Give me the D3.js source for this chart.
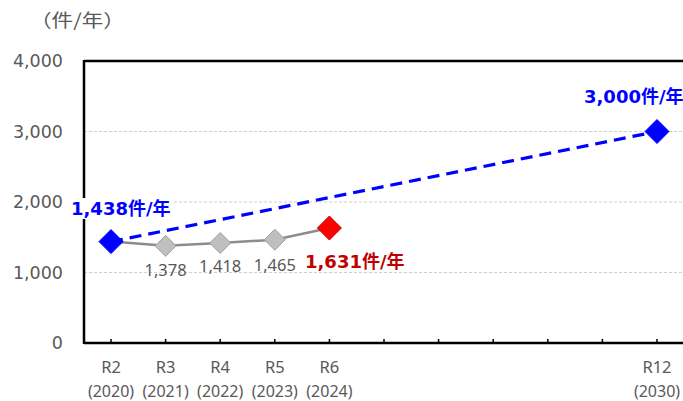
<!DOCTYPE html>
<html><head><meta charset="utf-8">
<script src="https://cdn.jsdelivr.net/npm/d3@7"></script>
<style>body{margin:0;background:#fff}svg{display:block}</style>
</head><body><svg id="c" width="683" height="401"></svg>
<script>
const categories = ["R2","R3","R4","R5","R6","R7","R8","R9","R10","R11","R12"];
const yearLabels = ["(2020)","(2021)","(2022)","(2023)","(2024)","","","","","","(2030)"];
const shownCats = ["R2","R3","R4","R5","R6","R12"];
const actualCats = ["R2","R3","R4","R5","R6"];
const actualValues = [1438,1378,1418,1465,1631];
const targetCats = ["R2","R12"];
const targetValues = [1438,3000];
const yTicks = [0,1000,2000,3000,4000];
const unitLabel = "（件/年）";

(function(){
const svg = d3.select("#c");
const font = "'DejaVu Sans','Noto Sans CJK JP',sans-serif";
const font2 = "'Noto Sans','Noto Sans CJK JP',sans-serif";
const pLeft = 84, pRight = 683, pTop = 61, pBottom = 343;
const step = 54.6;
const x = d3.scalePoint().domain(categories).range([111, 111 + step*10]);
const y = d3.scaleLinear().domain([0,4000]).range([pBottom, pTop]);
const fmt = d3.format(",");

// grid
svg.append("g").selectAll("line").data(yTicks.filter(d=>d>0 && d<4000)).join("line")
  .attr("x1", pLeft).attr("x2", pRight).attr("y1", d=>y(d)).attr("y2", d=>y(d))
  .attr("stroke", "#cfcfcf").attr("stroke-dasharray","3,2").attr("stroke-width",1);

// y labels
svg.append("g").selectAll("text").data(yTicks).join("text")
  .attr("x", 63).attr("y", d=>y(d)).attr("dy","0.36em").attr("text-anchor","end")
  .attr("font-family", font).attr("font-size", 17.5).attr("fill","#595959").text(d=>fmt(d));
svg.append("text").attr("transform", "translate(30,27) scale(1.2,1)")
  .attr("font-family", "'Noto Sans CJK JP',sans-serif").attr("font-size", 18)
  .attr("fill","#595959").text(unitLabel);

// frame: top, left, bottom
svg.append("line").attr("x1", pLeft).attr("x2", pRight).attr("y1", y(4000)).attr("y2", y(4000)).attr("stroke","#000").attr("stroke-width",2.5);
svg.append("line").attr("x1", pLeft).attr("x2", pLeft).attr("y1", y(4000)-1).attr("y2", y(0)+1).attr("stroke","#000").attr("stroke-width",2.5);
svg.append("line").attr("x1", pLeft).attr("x2", pRight).attr("y1", y(0)).attr("y2", y(0)).attr("stroke","#000").attr("stroke-width",2.5);
// x ticks
svg.append("g").selectAll("line").data(categories).join("line")
  .attr("x1", d=>x(d)).attr("x2", d=>x(d)).attr("y1", y(0)-4).attr("y2", y(0))
  .attr("stroke","#000").attr("stroke-width",1.5);
// x labels
svg.append("g").selectAll("text").data(shownCats).join("text")
  .attr("x", d=>x(d)).attr("y", 373).attr("text-anchor","middle")
  .attr("font-family", font2).attr("font-size", 16.5).attr("fill","#595959").text(d=>d);
svg.append("g").selectAll("text").data(categories.map((c,i)=>({c, t:yearLabels[i]})).filter(d=>d.t)).join("text")
  .attr("x", d=>x(d.c)).attr("y", 396.5).attr("text-anchor","middle")
  .attr("font-family", font2).attr("font-size", 16).attr("fill","#595959").text(d=>d.t);

// target dashed line
svg.append("path").datum(targetCats.map((c,i)=>[x(c), y(targetValues[i])]))
  .attr("d", d3.line()).attr("stroke","#0000ff").attr("stroke-width",3.2).attr("stroke-dasharray","12,7").attr("fill","none");
// actual line
svg.append("path").datum(actualCats.map((c,i)=>[x(c), y(actualValues[i])]))
  .attr("d", d3.line()).attr("stroke","#8c8c8c").attr("stroke-width",2.5).attr("fill","none");

function diamond(cx, cy, r, fill, stroke){
  svg.append("path").attr("d", `M${cx},${cy-r}L${cx+r},${cy}L${cx},${cy+r}L${cx-r},${cy}Z`)
    .attr("fill", fill).attr("stroke", stroke).attr("stroke-width",1);
}
actualCats.forEach((c,i)=>{
  if(i===0) diamond(x(c), y(actualValues[i]), 12, "#0000ff", "#0000ff");
  else if(i===actualCats.length-1) diamond(x(c), y(actualValues[i]), 12, "#ff0000", "#c00000");
  else diamond(x(c), y(actualValues[i]), 10.5, "#bfbfbf", "#a0a0a0");
});
diamond(x("R12"), y(3000), 12, "#0000ff", "#0000ff");

// grey value labels
const greyOffsets = [0, 30, 29, 31, 0];
actualCats.forEach((c,i)=>{
  if(i===0 || i===actualCats.length-1) return;
  svg.append("text").attr("x", x(c)).attr("y", y(actualValues[i]) + greyOffsets[i])
    .attr("text-anchor","middle").attr("font-family", font2).attr("font-size",16.5).attr("fill","#595959")
    .text(fmt(actualValues[i]));
});

// callouts
function callout(tx, ty, txt, color, bg){
  const t = svg.append("text").attr("x", tx).attr("y", ty).attr("font-family", font)
    .attr("font-size", 18).attr("font-weight","bold").attr("fill", color).text(txt);
  if(bg){
    const b = t.node().getBBox();
    svg.insert("rect", () => t.node()).attr("x", b.x-1).attr("y", b.y).attr("width", b.width+2).attr("height", b.height).attr("fill","#fff");
  }
}
callout(71, 215, fmt(actualValues[0]) + "件/年", "#0000ff", true);
callout(584, 103, fmt(targetValues[1]) + "件/年", "#0000ff", false);
callout(305, 268, fmt(actualValues[4]) + "件/年", "#c00000", false);
})();
</script></body></html>
